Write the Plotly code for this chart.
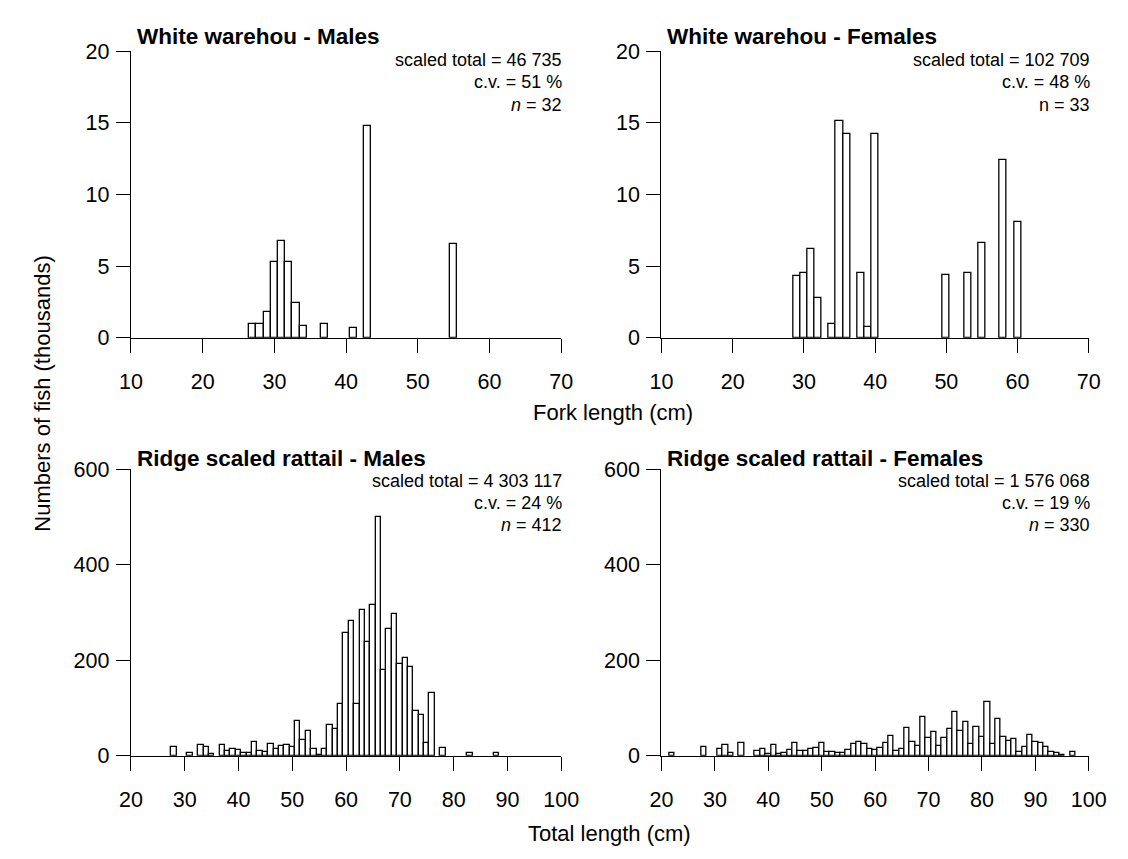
import plotly.graph_objects as go

# ---------------- data ----------------
wm_len = [27, 28, 29, 30, 31, 32, 33, 34, 37, 41, 43, 55]
wm_val = [0.95, 0.95, 1.8, 5.27, 6.75, 5.27, 2.43, 0.8, 0.95, 0.66, 14.77, 6.55]

wf_len = [29, 30, 31, 32, 34, 35, 36, 38, 39, 40, 50, 53, 55, 58, 60]
wf_val = [4.28, 4.55, 6.2, 2.77, 0.97, 15.1, 14.2, 4.55, 0.72, 14.2, 4.37, 4.5, 6.58, 12.4, 8.06]

rm_len = [28, 31, 33, 34, 35, 37, 38, 39, 40, 41, 42, 43, 44, 45, 46, 47, 48, 49, 50,
          51, 52, 53, 54, 55, 56, 57, 58, 59, 60, 61, 62, 63, 64, 65, 66, 67, 68, 69,
          70, 71, 72, 73, 74, 75, 76, 78, 83, 88]
rm_val = [18, 6, 22, 19, 3, 23, 9, 14, 13, 5, 6, 29, 10, 8, 25, 15, 21, 23, 18,
          72, 32, 51, 15, 2, 15, 65, 55, 109, 256, 281, 108, 306, 237, 315, 500, 180, 266, 297,
          193, 205, 186, 93, 86, 27, 131, 17, 5, 5]

rf_len = [22, 28, 31, 32, 33, 35, 38, 39, 40, 41, 42, 43, 44, 45, 46, 47, 48, 49, 50,
          51, 52, 53, 54, 55, 56, 57, 58, 59, 60, 61, 62, 63, 64, 65, 66, 67, 68, 69,
          70, 71, 72, 73, 74, 75, 76, 77, 78, 79, 80, 81, 82, 83, 84, 85, 86, 87, 88,
          89, 90, 91, 92, 93, 94, 95, 97]
rf_val = [5, 18, 14, 22, 6, 27, 10, 14, 3, 22, 3, 5, 12, 26, 9, 10, 14, 17, 26,
          8, 8, 5, 5, 12, 25, 28, 25, 14, 13, 16, 26, 42, 10, 14, 58, 28, 20, 81,
          37, 49, 20, 37, 56, 92, 51, 71, 25, 60, 39, 112, 24, 76, 40, 31, 35, 7, 18,
          43, 29, 26, 18, 7, 5, 2, 7]

titles = ["White warehou - Males", "White warehou - Females",
          "Ridge scaled rattail - Males", "Ridge scaled rattail - Females"]
stats = [["scaled total = 46 735", "c.v. = 51 %", "<i>n</i> = 32"],
         ["scaled total = 102 709", "c.v. = 48 %", "n = 33"],
         ["scaled total = 4 303 117", "c.v. = 24 %", "<i>n</i> = 412"],
         ["scaled total = 1 576 068", "c.v. = 19 %", "<i>n</i> = 330"]]

top_xticks = [10, 20, 30, 40, 50, 60, 70]
top_yticks = [0, 5, 10, 15, 20]
bot_xticks = [20, 30, 40, 50, 60, 70, 80, 90, 100]
bot_yticks = [0, 200, 400, 600]

# ---------------- layout helpers ----------------
W, H = 1128, 859
FONT = "Liberation Sans, Arial, Helvetica, sans-serif"

def px_x(p):
    return p / W

def px_y(p):
    return 1 - p / H

xdom = [[px_x(114), px_x(556)], [px_x(659), px_x(1098)]]
ydom = [[px_y(328), px_y(33)], [px_y(758), px_y(463)]]

panels = [
    (wm_len, wm_val, 0, 0, [10, 70], [0, 20], top_xticks, top_yticks),
    (wf_len, wf_val, 1, 0, [10, 70], [0, 20], top_xticks, top_yticks),
    (rm_len, rm_val, 0, 1, [20, 100], [0, 600], bot_xticks, bot_yticks),
    (rf_len, rf_val, 1, 1, [20, 100], [0, 600], bot_xticks, bot_yticks),
]

fig = go.Figure()
layout = dict(
    width=W, height=H,
    margin=dict(l=0, r=0, t=0, b=0),
    paper_bgcolor="white", plot_bgcolor="white",
    showlegend=False,
    font=dict(family=FONT, size=21.5, color="black"),
    bargap=0,
)

annotations = []
for i, (xs, ys, col, row, xr, yr, xt, yt) in enumerate(panels):
    n = i + 1
    xa = "x" if n == 1 else f"x{n}"
    ya = "y" if n == 1 else f"y{n}"
    fig.add_trace(go.Bar(
        x=xs, y=ys, width=1,
        marker=dict(color="white", line=dict(color="black", width=1.3)),
        xaxis=xa, yaxis=ya, hoverinfo="x+y",
    ))
    common = dict(showline=True, linecolor="black", linewidth=1.4,
                  ticks="outside", ticklen=14, tickwidth=1.4, tickcolor="black",
                  showgrid=False, zeroline=False,
                  tickfont=dict(family=FONT, size=21.5, color="black"))
    layout["xaxis" if n == 1 else f"xaxis{n}"] = dict(
        common, domain=xdom[col], range=xr, tickvals=xt, anchor=ya,
        ticklabelstandoff=10)
    layout["yaxis" if n == 1 else f"yaxis{n}"] = dict(
        common, domain=ydom[row], range=yr, tickvals=yt, anchor=xa,
        ticklabelstandoff=2)

    left_px = xdom[col][0] * W
    right_px = xdom[col][1] * W
    title_y = 18 if row == 0 else 452
    annotations.append(dict(
        text=f"<b>{titles[i]}</b>", xref="paper", yref="paper",
        x=px_x(left_px + 4), y=px_y(title_y), xanchor="left", yanchor="middle",
        showarrow=False, font=dict(family=FONT, size=22.5, color="black")))
    line_y = [42.5, 65, 88] if row == 0 else [475, 498, 521]
    for j, t in enumerate(stats[i]):
        annotations.append(dict(
            text=t, xref="paper", yref="paper",
            x=px_x(right_px + 3), y=px_y(line_y[j]), xanchor="right", yanchor="middle",
            showarrow=False, font=dict(family=FONT, size=18, color="black")))

annotations.append(dict(text="Fork length (cm)", xref="paper", yref="paper",
                        x=px_x(609), y=px_y(405), xanchor="center", yanchor="middle",
                        showarrow=False, font=dict(family=FONT, size=22, color="black")))
annotations.append(dict(text="Total length (cm)", xref="paper", yref="paper",
                        x=px_x(606), y=px_y(838), xanchor="center", yanchor="middle",
                        showarrow=False, font=dict(family=FONT, size=22, color="black")))
annotations.append(dict(text="Numbers of fish (thousands)", xref="paper", yref="paper",
                        x=px_x(23), y=px_y(385), xanchor="center", yanchor="middle",
                        textangle=-90, showarrow=False,
                        font=dict(family=FONT, size=22, color="black")))

layout["annotations"] = annotations
fig.update_layout(**layout)
fig.write_html("out.html")
